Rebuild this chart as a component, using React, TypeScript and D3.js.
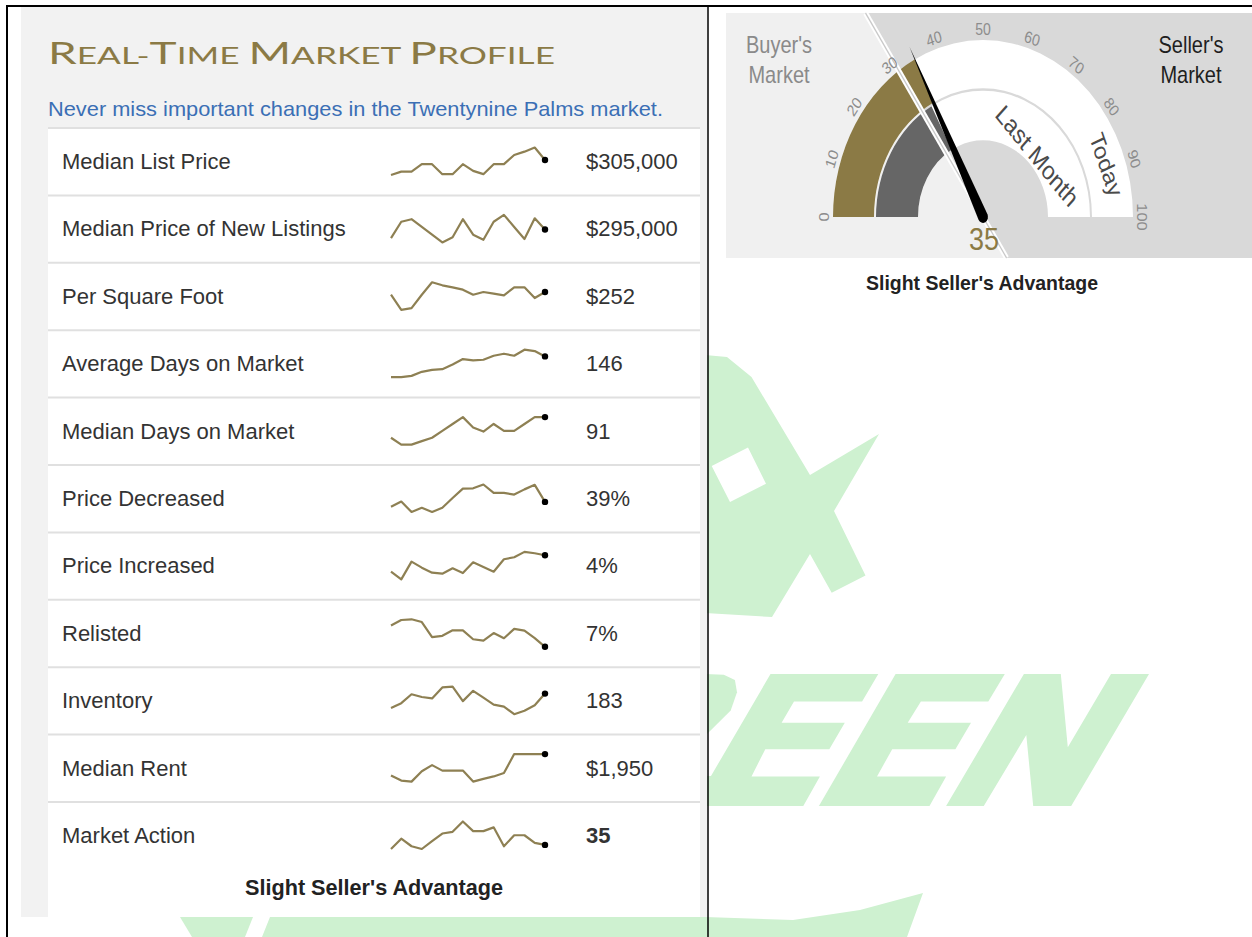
import React from "react"
import * as d3 from "d3"

// ---- market profile table ----
const metricNames = [
  "Median List Price",
  "Median Price of New Listings",
  "Per Square Foot",
  "Average Days on Market",
  "Median Days on Market",
  "Price Decreased",
  "Price Increased",
  "Relisted",
  "Inventory",
  "Median Rent",
  "Market Action",
]
const metricValues = ["$305,000", "$295,000", "$252", "146", "91", "39%", "4%", "7%", "183", "$1,950", "35"]

// sparkline trends (oldest -> latest)
const listPrice = [287, 291, 291, 300, 300, 288, 288, 300, 292, 288, 300, 300, 311, 315, 320, 305]
const newListingPrice = [285, 304, 307, 298, 289, 280, 286, 307, 289, 283, 304, 312, 298, 284, 308, 295]
const pricePerSqFt = [250, 238.75, 240, 250, 259.25, 257, 255.5, 253.75, 250, 252, 250.75, 249.5, 255.5, 255.5, 247.5, 252]
const avgDaysOnMarket = [115, 115, 117, 123, 126, 127, 134, 142, 140, 141, 147, 150, 147, 156, 154, 146]
const medianDaysOnMarket = [61, 51, 51, 56, 61, 71, 81, 91, 76, 70, 81, 71, 71, 81, 91, 91]
const priceDecreased = [37.6, 39.1, 36.1, 37.3, 36.1, 37.3, 40.1, 42.8, 42.9, 44, 41.6, 41.6, 41.1, 42.6, 43.9, 39]
const priceIncreased = [1.55, 0.4, 3.05, 2.15, 1.4, 1.25, 2.05, 1.35, 2.95, 2.25, 1.55, 3.4, 3.7, 4.5, 4.3, 4]
const relisted = [10.1, 10.9, 11, 10.6, 8.4, 8.6, 9.4, 9.4, 8.1, 7.9, 9, 8.25, 9.6, 9.35, 8.25, 7]
const inventory = [162, 169, 182, 178, 176, 192, 193, 172, 187, 177, 167, 164, 153, 158, 166, 183]
const medianRent = [1640, 1565, 1550, 1700, 1790, 1710, 1710, 1710, 1550, 1590, 1625, 1675, 1950, 1950, 1950, 1950]
const marketAction = [33.8, 36.8, 34.6, 33.8, 36.1, 38.3, 38.8, 41.8, 39, 39, 40.1, 34.6, 37.8, 37.8, 35.6, 35]

const trends = [listPrice, newListingPrice, pricePerSqFt, avgDaysOnMarket, medianDaysOnMarket, priceDecreased,
  priceIncreased, relisted, inventory, medianRent, marketAction]

// ---- gauge ----
const gaugeTicks = [0, 10, 20, 30, 40, 50, 60, 70, 80, 90, 100]
const todayValue = 35
const lastMonthValue = 34
const buyerSellerSplit = 31
const verdict = "Slight Seller's Advantage"

const GOLD = "#8b7a45"
const LINE = "#8e8053"

// watermark outlines (decoration only)
const watermark = [
  "M705,355 L727,357 L751.5,377 L810,475 L879,434 L834,511 L865.5,575.6 L831.7,592.7 L810,554 L772,617 L705,613 Z M711.7,466 L748,447.6 L766,483.7 L730,502 Z",
  "M705,674 L723.8,674.8 L734.9,680 L737,692.3 L730.7,710.6 L705,736 Z",
  "M770.5,674 L878.3,674 L862.1,701.6 L794,701.6 L781.6,722.8 L844.8,722.8 L829.3,749.2 L765.3,749.2 L751.5,776.4 L819.9,776.4 L803.3,806.1 L705,806.1 L705,776 L711,776 Z",
  "M895.6,674 L1004.8,674 L988.3,701.6 L920.9,701.6 L907.7,722.8 L971,722.8 L955.4,749.2 L892.2,749.2 L877,776.4 L946.1,776.4 L929.5,806.1 L818.9,806.1 Z",
  "M1023.9,674 L1060.8,674 L1067.8,747.2 L1111,674 L1149,674 L1071.2,806.1 L1033.2,806.1 L1026.3,735 L983.8,806.1 L946.1,806.1 Z",
  "M180,917 L253,917 L245,937 L192,937 Z",
  "M270,917 L705,917 L793,920 L860,910 L923,893 L907,937 L262,937 Z",
]

const Sparkline: React.FC<{ data: number[]; top: number }> = ({ data, top }) => {
  const x = d3.scaleLinear().domain([0, data.length - 1]).range([391, 545])
  const y = d3.scaleLinear().domain(d3.extent(data) as [number, number]).range([top + 47, top + 19.5])
  const line = d3.line<number>().x((_, i) => x(i)).y(d => y(d))
  const last = data.length - 1
  return (
    <g>
      <path d={line(data) || ""} fill="none" stroke={LINE} strokeWidth={2.2} strokeLinejoin="round" />
      <circle cx={x(last)} cy={y(data[last])} r={3.2} fill="#000" />
    </g>
  )
}

const Gauge: React.FC = () => {
  const cx = 983, cy = 217, sy = 1.18
  const angle = d3.scaleLinear().domain([0, 100]).range([-Math.PI / 2, Math.PI / 2])
  const polar = (v: number, r: number): [number, number] => [r * Math.sin(angle(v)), -r * Math.cos(angle(v))]
  const arc = d3.arc<any>()

  const left = 726 - cx, right = 1252 - cx
  const top = (13 - cy) / sy, bottom = (258 - cy) / sy

  // split line through the centre at the buyer / seller boundary
  const [ux, uy] = polar(buyerSellerSplit, 1)
  const pTop: [number, number] = [ux * (top / uy), top]
  const pBot: [number, number] = [ux * (bottom / uy), bottom]

  const outer = { innerRadius: 109, outerRadius: 150 }
  const inner = { innerRadius: 65, outerRadius: 107 }

  const a = angle(todayValue)
  const tip = polar(todayValue, 162)
  const hw = 5
  const bl = [hw * Math.cos(a), hw * Math.sin(a)]
  const br = [-hw * Math.cos(a), -hw * Math.sin(a)]
  const needle = `M${tip[0]},${tip[1]} L${bl[0]},${bl[1]} A${hw},${hw} 0 0 1 ${br[0]},${br[1]} Z`

  const lm = polar(75.7, 75)
  const td = polar(89, 131)

  return (
    <g transform={`translate(${cx},${cy}) scale(1,${sy})`}>
      <rect x={left} y={top} width={right - left} height={bottom - top} fill="#f0f0f0" />
      <path d={`M${pTop[0]},${pTop[1]} L${right},${top} L${right},${bottom} L${pBot[0]},${pBot[1]} Z`} fill="#d9d9d9" />

      <path d={arc({ ...outer, startAngle: angle(0), endAngle: angle(100) }) || ""} fill="#fff" />
      <path d={arc({ ...inner, startAngle: angle(0), endAngle: angle(100) }) || ""} fill="#fff" />
      <path d={arc({ ...outer, startAngle: angle(0), endAngle: angle(todayValue) }) || ""} fill={GOLD} />
      <path d={arc({ ...inner, startAngle: angle(0), endAngle: angle(lastMonthValue) }) || ""} fill="#666" />

      <line x1={pTop[0]} y1={pTop[1]} x2={pBot[0]} y2={pBot[1]} stroke="#fff" strokeWidth={5} />
      <line x1={pTop[0]} y1={pTop[1]} x2={pBot[0]} y2={pBot[1]} stroke="#c9c9c9" strokeWidth={1.2} />

      {gaugeTicks.map(t => {
        const [x, y] = polar(t, 159)
        return (
          <text key={t} transform={`translate(${x},${y}) rotate(${(angle(t) * 180) / Math.PI})`} textAnchor="middle" dy="0.35em"
            fontSize={14} fill="#8c8c8c">{t}</text>
        )
      })}

      <text transform={`translate(${lm[0]},${lm[1]}) rotate(46.3)`} textAnchor="middle" dy="0.35em" fontSize={22} fill="#4a4a4a">Last Month</text>
      <text transform={`translate(${td[0]},${td[1]}) rotate(68)`} textAnchor="middle" dy="0.35em" fontSize={21} fill="#4a4a4a">Today</text>

      <path d={needle} fill="#000" />
      <text x={1} y={28} textAnchor="middle" fontSize={27} fill={GOLD}>{todayValue}</text>

      <text x={-204} y={-138.7} textAnchor="middle" fontSize={20} fill="#8a8a8a">Buyer's</text>
      <text x={-204} y={-113.3} textAnchor="middle" fontSize={20} fill="#8a8a8a">Market</text>
      <text x={208} y={-138.7} textAnchor="middle" fontSize={20} fill="#1e1e1e">Seller's</text>
      <text x={208} y={-113.3} textAnchor="middle" fontSize={20} fill="#1e1e1e">Market</text>
    </g>
  )
}

export default function App() {
  const rowTop0 = 128
  const rowH = 67.4
  const big = 30, small = 23

  return (
    <svg width={1252} height={937} style={{ position: "absolute", left: 0, top: 0, background: "#fff" }}
      fontFamily="'Liberation Sans', Arial, sans-serif">
      {/* watermark */}
      <g fill="#cef1d0">
        {watermark.map((d, i) => <path key={i} d={d} fillRule="evenodd" />)}
      </g>

      {/* left panel */}
      <rect x={21} y={7} width={686} height={910} fill="#f2f2f2" />
      <rect x={48} y={127} width={652} height={790} fill="#fff" />

      <text x={48} y={64} fill={GOLD} fontFamily="Lato, 'DejaVu Sans', sans-serif" textLength={507} lengthAdjust="spacingAndGlyphs">
        <tspan fontSize={big}>R</tspan><tspan fontSize={small}>EAL-</tspan>
        <tspan fontSize={big}>T</tspan><tspan fontSize={small}>IME </tspan>
        <tspan fontSize={big}>M</tspan><tspan fontSize={small}>ARKET </tspan>
        <tspan fontSize={big}>P</tspan><tspan fontSize={small}>ROFILE</tspan>
      </text>
      <text x={48} y={116} fontSize={21} fill="#3b6fb5" textLength={615} lengthAdjust="spacingAndGlyphs">
        Never miss important changes in the Twentynine Palms market.
      </text>

      {metricNames.map((name, i) => {
        const top = rowTop0 + i * rowH
        return (
          <g key={name}>
            <line x1={48} x2={700} y1={top} y2={top} stroke="#e0e0e0" strokeWidth={2} />
            <text x={62} y={top + 41} fontSize={22} fill="#333">{name}</text>
            <Sparkline data={trends[i]} top={top} />
            <text x={586} y={top + 41} fontSize={22} fill="#333" fontWeight={i === metricNames.length - 1 ? "bold" : "normal"}>
              {metricValues[i]}
            </text>
          </g>
        )
      })}
      <text x={374} y={895} textAnchor="middle" fontSize={22} fontWeight="bold" fill="#222" textLength={258} lengthAdjust="spacingAndGlyphs">
        {verdict}
      </text>

      {/* right panel */}
      <Gauge />
      <text x={982} y={290} textAnchor="middle" fontSize={21} fontWeight="bold" fill="#222" textLength={232} lengthAdjust="spacingAndGlyphs">
        {verdict}
      </text>

      {/* frame */}
      <line x1={6} x2={1252} y1={6} y2={6} stroke="#000" strokeWidth={2} />
      <line x1={7} x2={7} y1={5} y2={937} stroke="#000" strokeWidth={2} />
      <line x1={708} x2={708} y1={5} y2={937} stroke="#000" strokeWidth={1.5} />
    </svg>
  )
}
